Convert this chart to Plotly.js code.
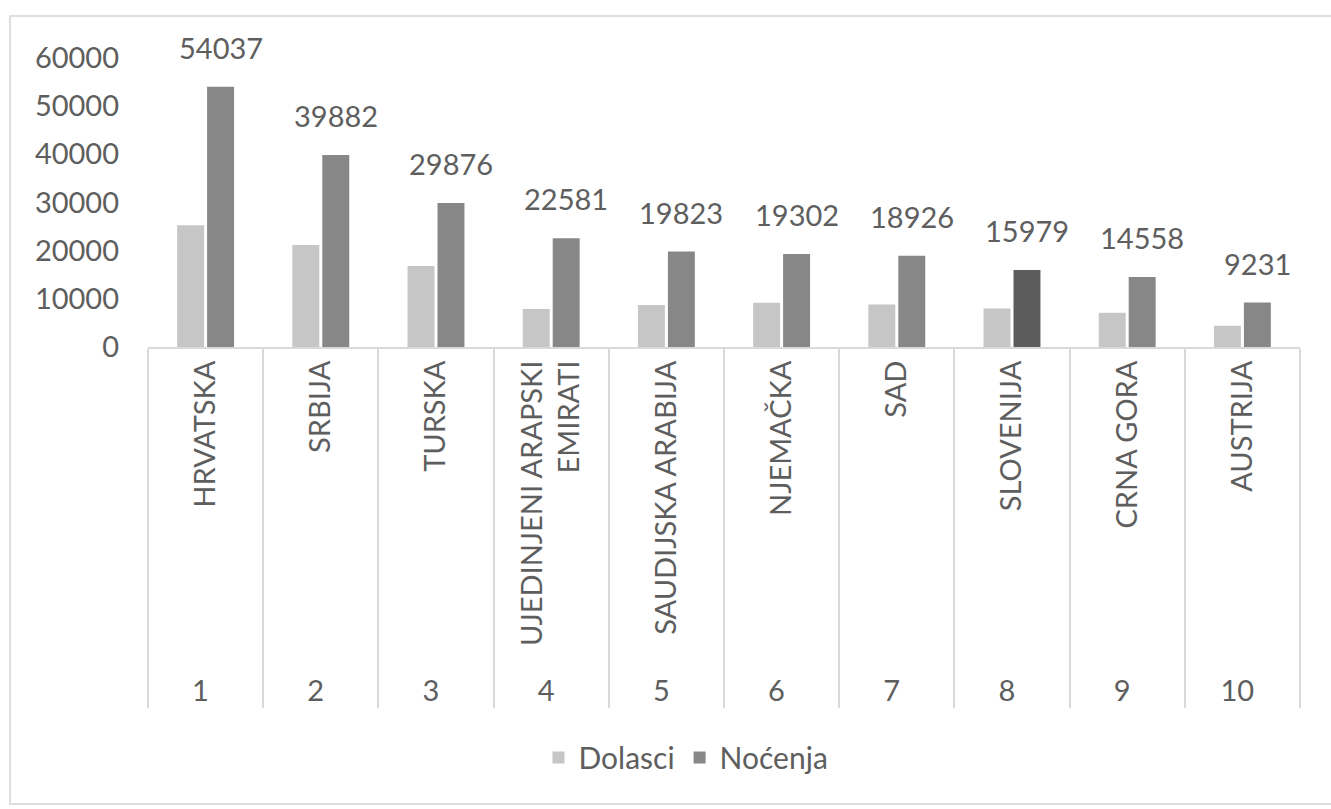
<!DOCTYPE html>
<html>
<head>
<meta charset="utf-8">
<script src="https://cdn.plot.ly/plotly-3.0.1.min.js"></script>
<style>
  html, body { margin: 0; padding: 0; background: #ffffff; }
  #chart { width: 1331px; height: 809px; position: relative; }
  #frame { position: absolute; left: 9px; top: 15px; width: 1340px; height: 790px;
           border: 2px solid #dedede; pointer-events: none; box-sizing: border-box; }
</style>
</head>
<body>
<div id="chart"></div>
<div id="frame"></div>
<script>
// ---- data ----
const rankLabels = ['1', '2', '3', '4', '5', '6', '7', '8', '9', '10'];
const countries = ['HRVATSKA', 'SRBIJA', 'TURSKA', 'UJEDINJENI ARAPSKI<br>EMIRATI',
  'SAUDIJSKA ARABIJA', 'NJEMAČKA', 'SAD', 'SLOVENIJA', 'CRNA GORA', 'AUSTRIJA'];
const dolasci = [25300, 21200, 16800, 7900, 8700, 9200, 8800, 8000, 7100, 4400];
const nocenja = [54037, 39882, 29876, 22581, 19823, 19302, 18926, 15979, 14558, 9231];
const seriesNames = ['Dolasci', 'Noćenja'];

// ---- style ----
const FONT = 'Lato, "Open Sans", sans-serif';
const TXT = '#5e5e5e';
const lightColor = '#c6c6c6';
const darkColors = nocenja.map((v, i) => i === 7 ? '#5c5c5c' : '#878787');

const x = [rankLabels, countries];

const traces = [
  { type: 'bar', name: seriesNames[0], x: x, y: dolasci,
    marker: { color: lightColor }, hoverinfo: 'y' },
  { type: 'bar', name: seriesNames[1], x: x, y: nocenja,
    marker: { color: darkColors }, hoverinfo: 'y' }
];

const annotations = nocenja.map((v, i) => ({
  xref: 'x', yref: 'y', x: i, y: v,
  text: String(v), showarrow: false,
  xanchor: 'center', yanchor: 'bottom', xshift: 15, yshift: 20,
  font: { family: FONT, size: 29, color: TXT }
}));

const layout = {
  width: 1331, height: 809,
  margin: { l: 148, r: 31, t: 58, b: 462 },
  paper_bgcolor: '#ffffff', plot_bgcolor: '#ffffff',
  font: { family: FONT, size: 29, color: TXT },
  barmode: 'group', bargap: 0.48, bargroupgap: 0.1,
  showlegend: true,
  legend: { orientation: 'h', x: 0.467, xanchor: 'center', y: -1.42, yanchor: 'middle',
            font: { family: FONT, size: 30, color: TXT }, traceorder: 'normal',
            itemwidth: 30 },
  xaxis: {
    type: 'multicategory', tickangle: -90,
    showline: true, linecolor: '#d9d9d9', linewidth: 2,
    showdividers: true, dividercolor: '#d9d9d9', dividerwidth: 2,
    ticks: '', showgrid: false, zeroline: false,
    tickfont: { family: FONT, size: 29, color: TXT }
  },
  yaxis: {
    range: [0, 60000], dtick: 10000, tick0: 0, tickformat: 'd',
    showgrid: false, zeroline: false, showline: false, ticks: '',
    ticklabelstandoff: 28,
    tickfont: { family: FONT, size: 29, color: TXT }
  },
  annotations: annotations
};

Plotly.newPlot('chart', traces, layout, { displayModeBar: false, staticPlot: true });
</script>
</body>
</html>
